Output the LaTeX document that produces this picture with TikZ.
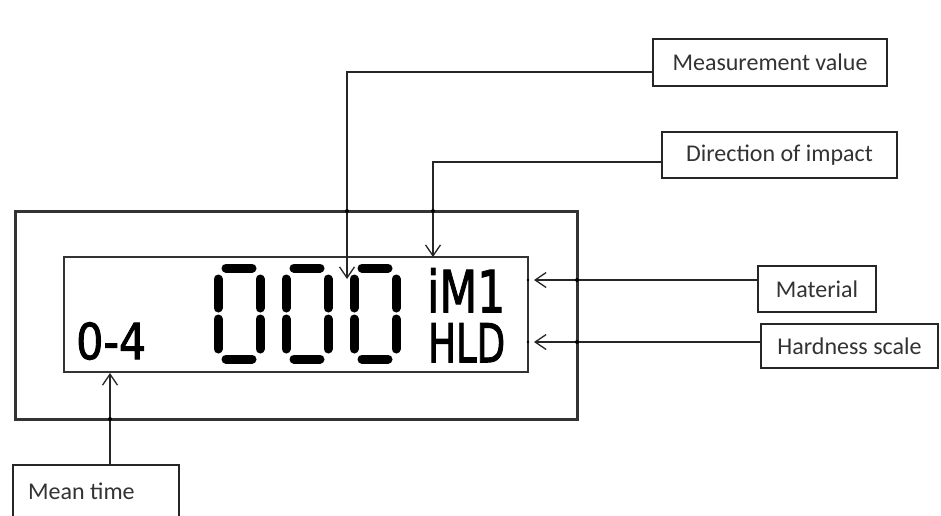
\documentclass[tikz,border=0pt]{standalone}
\usepackage{fontspec}
\setmainfont{Carlito}
\newfontfamily\lcdfont[FakeBold=2]{DejaVu Sans}
\usetikzlibrary{arrows.meta}
\begin{document}
\begin{tikzpicture}[x=1pt,y=-1pt,
  labelbox/.style={draw=black!85,line width=1.5pt,inner sep=0pt,font=\fontsize{24}{27}\selectfont,text=black!80},
  conn/.style={draw=black!85,line width=1.3pt},
  arr/.style={conn,-{Straight Barb[length=11pt,width=15pt,line width=1.3pt]}},
  jdot/.style={fill=black,radius=2},
  seg/.style={line width=9pt,line cap=round,black},
  frame/.style={draw=black!80,line width=3pt},
  lcd/.style={draw=black!80,line width=2.3pt},
  lcdtext/.style={inner sep=0pt,anchor=north west,font=\lcdfont}]
\useasboundingbox[fill=white] (0,0) rectangle (941,515);
% housings
\draw[frame] (15,211) rectangle (577,419);
\draw[lcd] (64,257) rectangle (528,372);
% big digits 000
\foreach \ox in {215,283,351}{
  \draw[seg] (\ox+11,268) -- (\ox+37,268);
  \draw[seg] (\ox+11,359) -- (\ox+37,359);
  \draw[seg] (\ox+3,279) -- (\ox+3,308);
  \draw[seg] (\ox+3,319) -- (\ox+3,349);
  \draw[seg] (\ox+45,279) -- (\ox+45,308);
  \draw[seg] (\ox+45,319) -- (\ox+45,349);
}
% small LCD texts
\node[lcdtext] (mean) at (76,322) {\resizebox{70pt}{37pt}{0-4}};
\node[lcdtext] (mat) at (427,268) {\resizebox{78pt}{44pt}{iM1}};
\node[lcdtext] (hs) at (428,323) {\resizebox{77pt}{39pt}{HLD}};
% label boxes
\node[labelbox,minimum width=234pt,minimum height=47pt] (mv) at (770,62.5) {Measurement value};
\node[labelbox,minimum width=235pt,minimum height=46pt] (di) at (779.5,155) {Direction of impact};
\node[labelbox,minimum width=118pt,minimum height=46pt] (ma) at (817,289) {Material};
\node[labelbox,minimum width=177pt,minimum height=44pt] (ha) at (849.5,346) {Hardness scale};
\draw[draw=black!85,line width=1.5pt] (13,465) rectangle (179,530);
\node[inner sep=0pt,anchor=west,font=\fontsize{24}{27}\selectfont,text=black!80] (mt) at (28,491) {Mean time};
\coordinate (mtbox) at (110,465);
% arrow targets
\coordinate (mvT) at (347,279);
\coordinate (diT) at (433,257);
\coordinate (maT) at (534,280);
\coordinate (haT) at (534,342);
\coordinate (mtT) at (110,373);
% connectors
\draw[arr] (mv.west |- 0,72) -| (mvT);
\draw[arr] (di.west |- 0,162) -| (diT);
\draw[arr] (ma.west |- 0,280) -- (maT);
\draw[arr] (ha.west |- 0,342) -- (haT);
\draw[arr] (mtbox) -- (mtT);
% junction dots
\fill[jdot] (347,211) circle;
\fill[jdot] (433,211) circle;
\fill[jdot] (577,280) circle;
\fill[jdot] (577,342) circle;
\fill[jdot] (110,419) circle;
\fill[black,radius=1.3] (528,280) circle;
\fill[black,radius=1.3] (528,342) circle;
\end{tikzpicture}
\end{document}
